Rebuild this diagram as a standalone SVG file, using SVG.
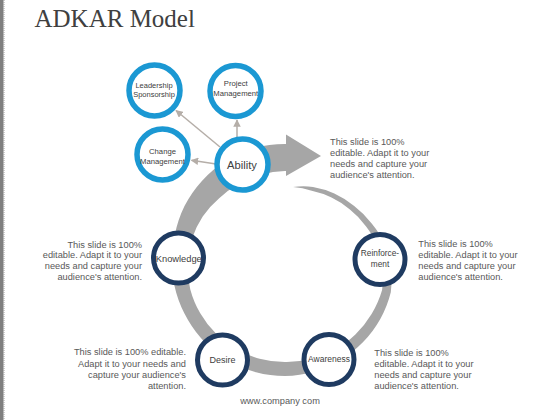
<svg xmlns="http://www.w3.org/2000/svg" width="560" height="420" viewBox="0 0 560 420">
<defs>
<style>
.body{font-family:"Liberation Sans",Arial,sans-serif;font-size:9.25px;fill:#595959}
.lbl{font-family:"Liberation Sans",Arial,sans-serif;fill:#404040;text-anchor:middle}
.blue{fill:#fff;stroke:#1b98d3;stroke-width:5.5}
.navy{fill:#fff;stroke:#1f3b61;stroke-width:5}
.conn{stroke:#b5aea8;stroke-width:1.5;fill:none;marker-end:url(#ah)}
</style>
<marker id="ah" viewBox="0 0 10 10" refX="9" refY="5" markerWidth="5" markerHeight="5" orient="auto" markerUnits="strokeWidth">
<path d="M0,0 L10,5 L0,10 Z" fill="#b5aea8"/>
</marker>
</defs>
<rect width="560" height="420" fill="#fff"/>
<rect x="0" y="0" width="3.5" height="420" fill="#7f7f7f"/>
<line x1="4" y1="0" x2="4" y2="420" stroke="#a0a0a0" stroke-width="1" stroke-dasharray="1 1"/>
<text x="34.5" y="27" style="font-family:'Liberation Serif','Times New Roman',serif;font-size:25px;fill:#404040">ADKAR Model</text>
<g id="cycle-arrow">
<path fill="#a6a6a6" d="M293.1,187 A80,80 0 0 1 313,186.9 A84,84 0 0 1 334.3,193.5 A88,88 0 0 1 354.2,206 A93,93 0 0 1 371.7,223.6 A99,99 0 0 1 385.7,246.2 A104,104 0 0 1 390.8,292.3 A110,110 0 0 1 380.3,319 A110,110 0 0 1 363.1,342.1 A111,111 0 0 1 340.5,360.1 A111,111 0 0 1 313.9,371.7 A112,112 0 0 1 285,376 A112,112 0 0 1 256,372.2 A112,112 0 0 1 229,361 A112,112 0 0 1 205.8,343.2 A112,112 0 0 1 188,320 A112,112 0 0 1 176.3,293.1 A113,113 0 0 1 172,264 A113,113 0 0 1 174.9,234.5 A115,115 0 0 1 184.5,206 A117,117 0 0 1 201.9,180.9 A118,118 0 0 1 225.5,161 A120,120 0 0 1 253.9,148.1 A120,120 0 0 1 285,144 L286,144 L286,134.5 L321,156 L286,176 L286,171 L285,171 A93,93 0 0 0 261.1,174.7 A92,92 0 0 0 238.8,183.9 A93,93 0 0 0 219.2,198.2 A94,94 0 0 0 202.7,216.5 A96,96 0 0 0 191.8,239 A97,97 0 0 0 187.5,264 A98,98 0 0 0 190.3,289.4 A98,98 0 0 0 200.1,313 A98,98 0 0 0 215.7,333.3 A98,98 0 0 0 236,348.9 A98,98 0 0 0 259.6,358.7 A98,98 0 0 0 285,362 A98,98 0 0 0 310.5,359.1 A99,99 0 0 0 334.5,349.7 A99,99 0 0 0 355.4,334.4 A100,100 0 0 0 371.6,314 A100,100 0 0 0 382.1,290 A96,96 0 0 0 378.3,247.6 A90,90 0 0 0 365.9,226.3 A86,86 0 0 0 349.9,209.6 A82,82 0 0 0 331.5,197.6 A79,79 0 0 0 311.7,190.7 A77,77 0 0 0 293.1,187 Z"/>
</g>
<g id="connectors">
<line class="conn" x1="220" y1="147" x2="176" y2="110.5"/>
<line class="conn" x1="237" y1="138" x2="237" y2="120"/>
<line class="conn" x1="216" y1="164" x2="191.5" y2="160.3"/>
</g>
<g id="leadership">
<circle class="blue" cx="154.5" cy="90.5" r="25.5"/>
<text class="lbl" style="font-size:7.5px"><tspan x="154" y="88">Leadership</tspan><tspan x="154" y="97">Sponsorship</tspan></text>
</g>
<g id="project">
<circle class="blue" cx="235.5" cy="91" r="25.5"/>
<text class="lbl" style="font-size:7.7px"><tspan x="235.8" y="86">Project</tspan><tspan x="235.8" y="95.5">Management</tspan></text>
</g>
<g id="change">
<circle class="blue" cx="162.5" cy="154.5" r="25.5"/>
<text class="lbl" style="font-size:7.7px"><tspan x="162.5" y="154">Change</tspan><tspan x="162.5" y="163.5">Management</tspan></text>
</g>
<g id="ability">
<circle class="blue" cx="242.5" cy="164.5" r="25.5"/>
<text class="lbl" x="242" y="169" style="font-size:11.2px">Ability</text>
</g>
<g id="knowledge">
<circle class="navy" cx="178.5" cy="258" r="25"/>
<text class="lbl" x="178.8" y="261.5" style="font-size:9.3px">Knowledge</text>
</g>
<g id="reinforcement">
<circle class="navy" cx="380" cy="259.5" r="25"/>
<text class="lbl" style="font-size:8.3px"><tspan x="380" y="256">Reinforce-</tspan><tspan x="380" y="266.5">ment</tspan></text>
</g>
<g id="desire">
<circle class="navy" cx="222.5" cy="360" r="25"/>
<text class="lbl" x="222.5" y="363" style="font-size:9px">Desire</text>
</g>
<g id="awareness">
<circle class="navy" cx="329" cy="359.5" r="25"/>
<text class="lbl" x="329" y="362.3" style="font-size:8.5px">Awareness</text>
</g>
<text class="body"><tspan x="330" y="144.5">This slide is 100%</tspan><tspan x="330" y="155.5">editable. Adapt it to your</tspan><tspan x="330" y="166.5">needs and capture your</tspan><tspan x="330" y="177.5">audience's attention.</tspan></text>
<text class="body"><tspan x="418.3" y="246.5">This slide is 100%</tspan><tspan x="418.3" y="257.5">editable. Adapt it to your</tspan><tspan x="418.3" y="268.5">needs and capture your</tspan><tspan x="418.3" y="279.5">audience's attention.</tspan></text>
<text class="body" text-anchor="end"><tspan x="142" y="247.5">This slide is 100%</tspan><tspan x="142" y="258.3">editable. Adapt it to your</tspan><tspan x="142" y="269">needs and capture your</tspan><tspan x="142" y="279.7">audience's attention.</tspan></text>
<text class="body" text-anchor="end"><tspan x="186" y="355.3">This slide is 100% editable.</tspan><tspan x="186" y="366.5">Adapt it to your needs and</tspan><tspan x="186" y="377.5">capture your audience's</tspan><tspan x="186" y="388.5">attention.</tspan></text>
<text class="body"><tspan x="374.3" y="355.5">This slide is 100%</tspan><tspan x="374.3" y="366.5">editable. Adapt it to your</tspan><tspan x="374.3" y="377.5">needs and capture your</tspan><tspan x="374.3" y="388.5">audience's attention.</tspan></text>
<text class="body" x="280" y="403.5" text-anchor="middle">www.company com</text>
</svg>
